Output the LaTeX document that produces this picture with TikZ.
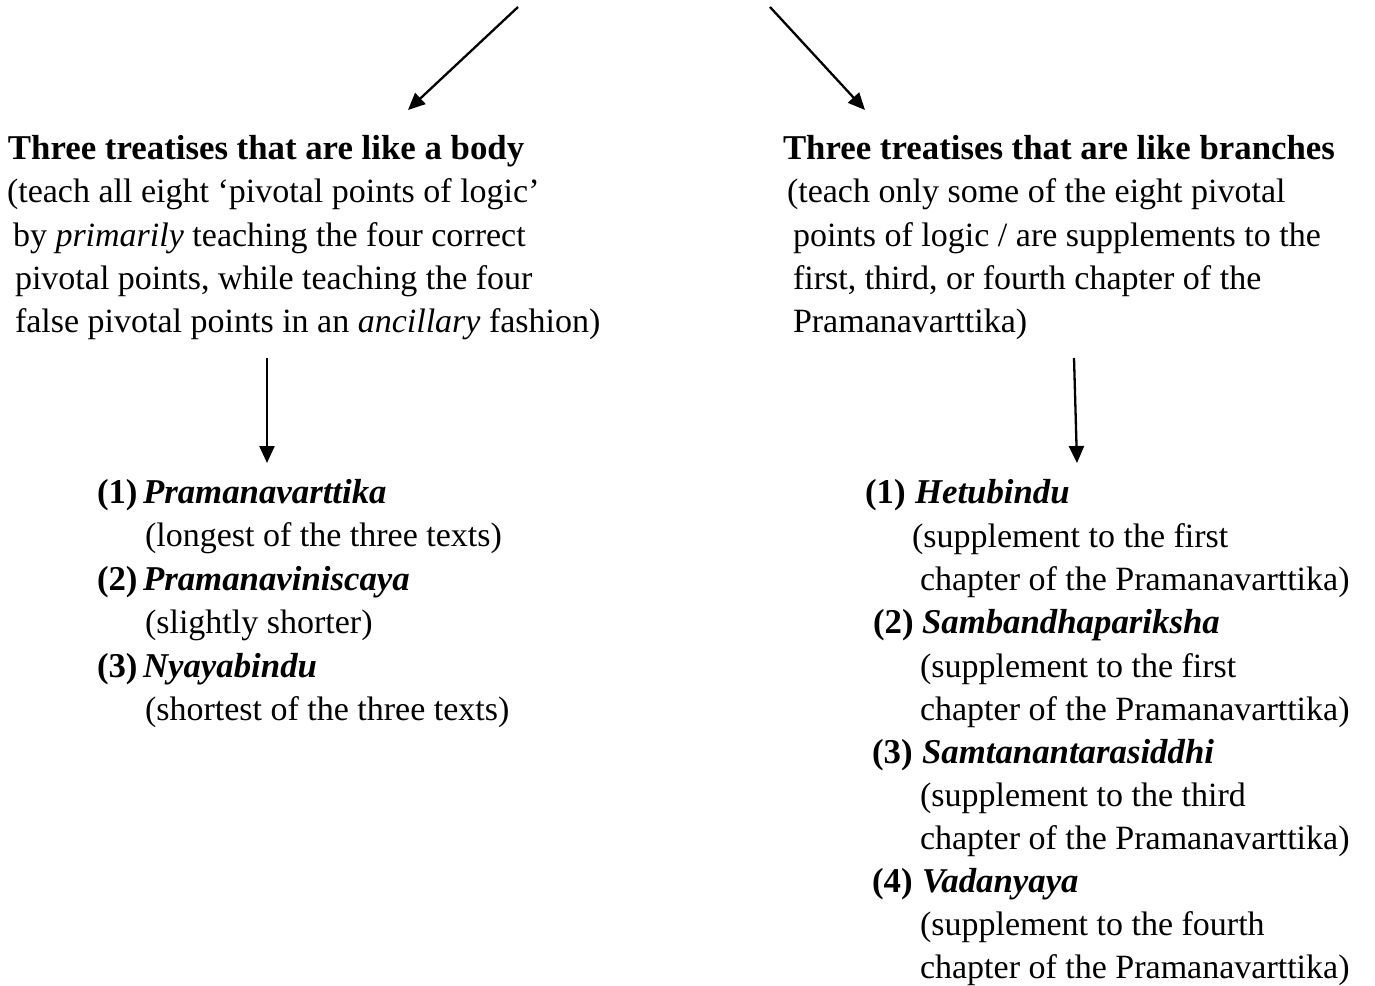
\documentclass[tikz,border=0pt]{standalone}
\usepackage{fontspec}
\setmainfont{Liberation Serif}
\usetikzlibrary{arrows.meta}
\tikzset{
  txt/.style={anchor=base west, inner sep=0pt, outer sep=0pt, font=\fontsize{34}{43.4}\selectfont},
  hd/.style={txt, font=\fontsize{34.8}{43.4}\selectfont\bfseries},
  itm/.style={txt, font=\fontsize{34.8}{43.4}\selectfont\bfseries\itshape},
  num/.style={txt, font=\fontsize{34.8}{43.4}\selectfont\bfseries},
  arr/.style={line width=2.3pt, -{Triangle[length=17pt,width=15pt]}}
}
\begin{document}
\begin{tikzpicture}[x=1pt,y=-1pt]
\useasboundingbox (0,0) rectangle (1375,985);
% top arrows
\coordinate (tlS) at (518,7);
\coordinate (tlE) at (408,110);
\coordinate (trS) at (770,7);
\coordinate (trE) at (865,110);
\draw[arr] (tlS) -- (tlE);
\draw[arr] (trS) -- (trE);
% left header
\node[hd] (L1) at (8,159) {Three treatises that are like a body};
\node[txt] (L2) at (7,202) {(teach all eight ‘pivotal points of logic’};
\node[txt] (L3) at (13,246) {by \textit{primarily} teaching the four correct};
\node[txt] (L4) at (15,289) {pivotal points, while teaching the four};
\node[txt] (L5) at (15,332) {false pivotal points in an \textit{ancillary} fashion)};
% right header
\node[hd] (R1) at (783,159) {Three treatises that are like branches};
\node[txt] (R2) at (787,202) {(teach only some of the eight pivotal};
\node[txt] (R3) at (793,246) {points of logic / are supplements to the};
\node[txt] (R4) at (793,289) {first, third, or fourth chapter of the};
\node[txt] (R5) at (793,332) {Pramanavarttika)};
% vertical arrows
\coordinate (vlS) at (267,358);
\coordinate (vlE) at (267,463);
\coordinate (vrS) at (1074,358);
\coordinate (vrE) at (1077,463);
\draw[arr] (vlS) -- (vlE);
\draw[arr] (vrS) -- (vrE);
% left list
\node[num] (LN1) at (97,503) {(1)};
\node[itm] (LT1) at (143,503) {Pramanavarttika};
\node[txt] (LD1) at (145,546) {(longest of the three texts)};
\node[num] (LN2) at (97,590) {(2)};
\node[itm] (LT2) at (143,590) {Pramanaviniscaya};
\node[txt] (LD2) at (145,633) {(slightly shorter)};
\node[num] (LN3) at (97,677) {(3)};
\node[itm] (LT3) at (143,677) {Nyayabindu};
\node[txt] (LD3) at (145,720) {(shortest of the three texts)};
% right list
\node[num] (RN1) at (865,503) {(1)};
\node[itm] (RT1) at (915,503) {Hetubindu};
\node[txt] (RD1a) at (912,547) {(supplement to the first};
\node[txt] (RD1b) at (920,590) {chapter of the Pramanavarttika)};
\node[num] (RN2) at (873,633) {(2)};
\node[itm] (RT2) at (922,633) {Sambandhapariksha};
\node[txt] (RD2a) at (920,677) {(supplement to the first};
\node[txt] (RD2b) at (920,720) {chapter of the Pramanavarttika)};
\node[num] (RN3) at (872,763) {(3)};
\node[itm] (RT3) at (922,763) {Samtanantarasiddhi};
\node[txt] (RD3a) at (920,806) {(supplement to the third};
\node[txt] (RD3b) at (920,849) {chapter of the Pramanavarttika)};
\node[num] (RN4) at (872,892) {(4)};
\node[itm] (RT4) at (922,892) {Vadanyaya};
\node[txt] (RD4a) at (920,935) {(supplement to the fourth};
\node[txt] (RD4b) at (920,978) {chapter of the Pramanavarttika)};
\end{tikzpicture}
\end{document}
